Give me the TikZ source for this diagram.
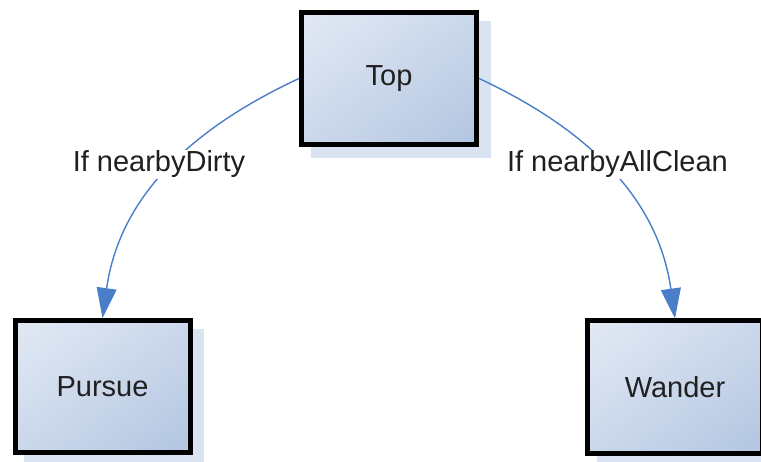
\documentclass[tikz,border=0pt]{standalone}
\usepackage{fontspec}
\setmainfont{Liberation Sans}
\usetikzlibrary{arrows.meta,shadows,shadings}

\definecolor{boxlight}{RGB}{226,233,244}
\definecolor{boxmid}{RGB}{203,216,235}
\definecolor{boxdark}{RGB}{178,197,225}
\definecolor{shadowblue}{RGB}{218,227,241}
\definecolor{linkblue}{RGB}{74,126,200}
\definecolor{textgray}{RGB}{32,32,32}

\tikzset{
  x=1pt, y=1pt,
  state/.style={
    draw=black, line width=5pt,
    minimum width=175pt, minimum height=132pt,
    upper left=boxlight, lower right=boxdark,
    upper right=boxmid, lower left=boxmid,
    drop shadow={fill=shadowblue, draw=shadowblue, line width=5pt,
                 opacity=1, shadow xshift=11.5pt, shadow yshift=-11pt},
    font=\fontsize{29}{34}\selectfont, text=textgray},
  link/.style={draw=linkblue, line width=1.4pt,
    -{Triangle[length=30pt,width=20pt]}},
  cond/.style={fill=white, inner sep=1pt,
    font=\fontsize{29}{34}\selectfont, text=textgray}
}

\begin{document}
\begin{tikzpicture}
  \useasboundingbox (0,0) rectangle (761,461);

  % state boxes
  \node[state] (top)    at (389,382.5) {Top};
  \node[state] (pursue) at (102.5,74.5) {Pursue};
  \node[state] (wander) at (675,74)     {Wander};

  % transitions
  \draw[link] (top.west) to[out=205, in=82] (pursue.north);
  \draw[link] (top.east) to[out=-25, in=98] (wander.north);

  % transition conditions
  \node[cond, anchor=base] (c1) at (159,289)   {If nearbyDirty};
  \node[cond, anchor=base] (c2) at (617.5,289) {If nearbyAllClean};
\end{tikzpicture}
\end{document}
